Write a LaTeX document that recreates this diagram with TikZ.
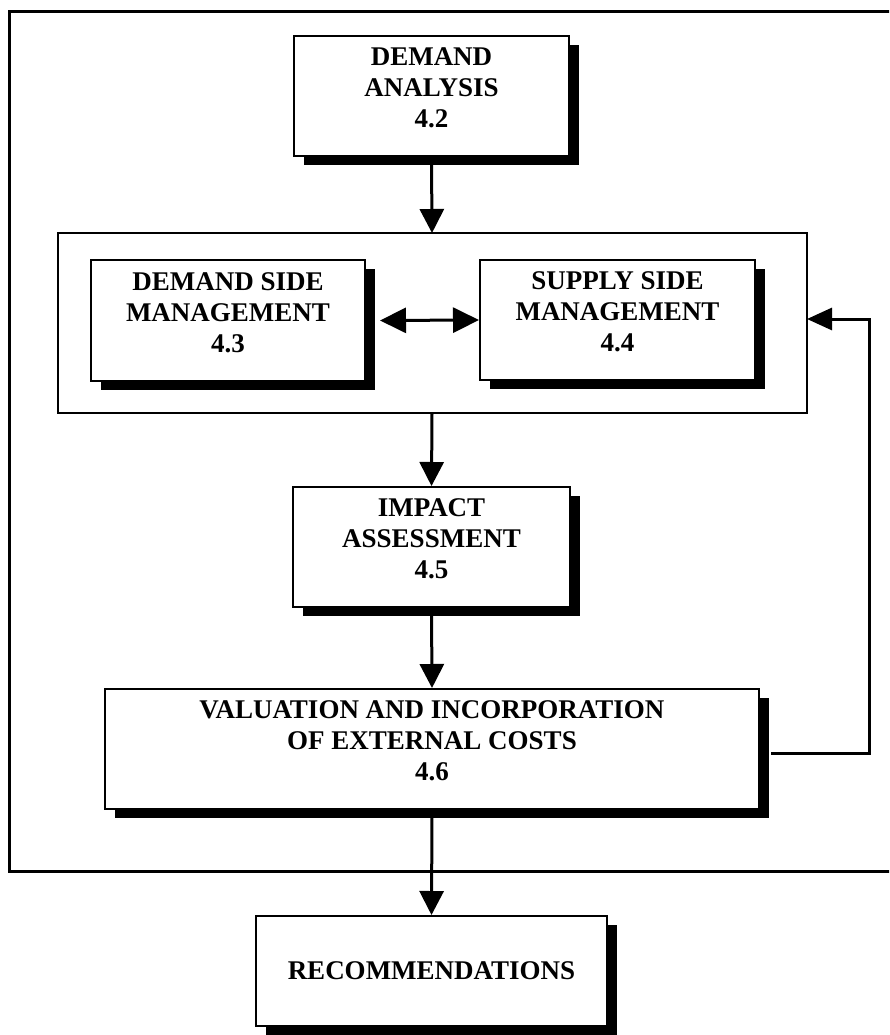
\documentclass[tikz,border=0pt]{standalone}
\usepackage{fontspec}
\setmainfont{Liberation Serif}
\usetikzlibrary{arrows.meta,shadows}
\begin{document}
\begin{tikzpicture}[x=1pt,y=-1pt,
  stage/.style={draw=black, line width=2pt, fill=white, align=center,
    font=\fontsize{27}{31}\selectfont\bfseries, text depth=16pt, inner sep=0pt,
    drop shadow={shadow xshift=10pt, shadow yshift=-9pt, fill=black, opacity=1}},
  frame/.style={draw=black, line width=3pt},
  group/.style={draw=black, line width=2pt},
  flow/.style={line width=3pt, -{Triangle[length=24pt,width=24pt]}},
  both/.style={line width=3pt, {Triangle[length=26pt,width=25pt]}-{Triangle[length=26pt,width=25pt]}},
]
\clip (0,0) rectangle (889,1035);

% outer frame (its right side runs past the page edge)
\draw[frame] (9,12) rectangle (900,871);

% management group
\draw[group] (58,233) rectangle (807,413);
\coordinate (grpN) at (432,233);
\coordinate (grpS) at (432,413);
\coordinate (grpE) at (807,319);

% stages
\node[stage, minimum width=275pt, minimum height=120pt] (da) at (431.5,96)
  {DEMAND\\ANALYSIS\\4.2};
\node[stage, minimum width=274pt, minimum height=121pt] (dsm) at (228,320.5)
  {DEMAND SIDE\\MANAGEMENT\\4.3};
\node[stage, minimum width=275pt, minimum height=120pt] (ssm) at (617.5,320)
  {SUPPLY SIDE\\MANAGEMENT\\4.4};
\node[stage, minimum width=277pt, minimum height=120pt] (ia) at (431.5,547)
  {IMPACT\\ASSESSMENT\\4.5};
\node[stage, minimum width=654pt, minimum height=120pt] (vic) at (432,749)
  {VALUATION AND INCORPORATION\\OF EXTERNAL COSTS\\4.6};
\node[stage, text depth=0pt, minimum width=351pt, minimum height=110pt] (rec) at (431.5,971)
  {RECOMMENDATIONS};

% connectors
\draw[flow] (da.south) -- (grpN);
\draw[both] ([xshift=14pt]dsm.east) -- (ssm.west);
\draw[flow] (grpS) -- (ia.north);
\draw[flow] (ia.south) -- (vic.north);
\draw[flow] (vic.south) -- (rec.north);
\coordinate (fb) at (869,319);
\draw[line width=3pt, -{Triangle[length=25pt,width=22pt]}]
  ([xshift=11pt,yshift=-4pt]vic.east) -| (fb) -- (grpE);
\end{tikzpicture}
\end{document}
